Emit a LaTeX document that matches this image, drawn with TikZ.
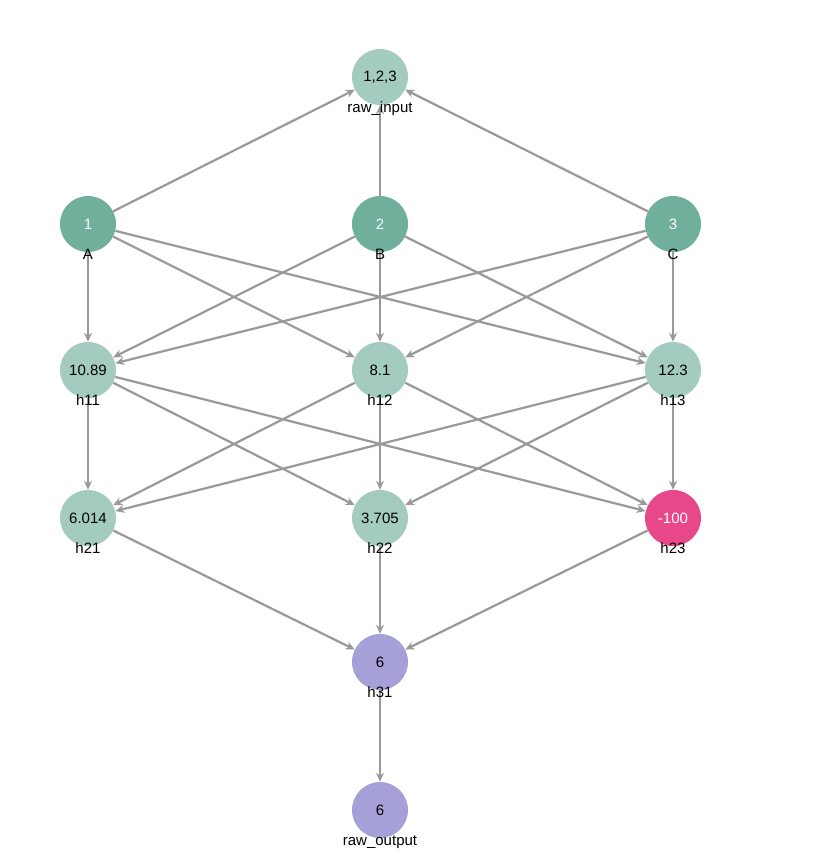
\documentclass[tikz,border=0pt]{standalone}
\usepackage{fontspec}
\setmainfont{Liberation Sans}
\usetikzlibrary{arrows.meta}
\definecolor{darkgreen}{HTML}{6FAF9B}
\definecolor{lightgreen}{HTML}{A3CBBF}
\definecolor{hotpink}{HTML}{E8488A}
\definecolor{lavender}{HTML}{A5A1D8}
\definecolor{edgegray}{HTML}{999999}
\tikzset{
	unit/.style={circle,minimum size=56pt,inner sep=0pt,font=\fontsize{15}{15}\selectfont},
	inunit/.style={unit,fill=darkgreen,text=white},
	hidunit/.style={unit,fill=lightgreen},
	outunit/.style={unit,fill=lavender},
	link/.style={draw=edgegray,line width=2.2pt,-{Stealth[length=9pt,width=8pt]}},
	tag/.style={font=\fontsize{15}{15}\selectfont,anchor=base}
}
\begin{document}
\begin{tikzpicture}[x=1pt,y=-1pt]
	\useasboundingbox (0,0) rectangle (814,859);
	% units
		\node [hidunit] (raw_in) at (380,77) {1,2,3};
		\node [inunit] (A) at (88,224) {1};
		\node [inunit] (B) at (380,224) {2};
		\node [inunit] (C) at (673,224) {3};
		\node [hidunit] (h11) at (88,370) {10.89};
		\node [hidunit] (h12) at (380,370) {8.1};
		\node [hidunit] (h13) at (673,370) {12.3};
		\node [hidunit] (h21) at (88,518) {6.014};
		\node [hidunit] (h22) at (380,518) {3.705};
		\node [unit,fill=hotpink,text=white] (h23) at (673,518) {-100};
		\node [outunit] (h31) at (380,662) {6};
		\node [outunit] (raw_out) at (380,810) {6};
	% links
		\foreach \s in {A,B,C}
			\draw [link] (\s) -- (raw_in);
		\foreach \s in {A,B,C}
			\foreach \t in {h11,h12,h13}
				\draw [link] (\s) -- (\t);
		\foreach \s in {h11,h12,h13}
			\foreach \t in {h21,h22,h23}
				\draw [link] (\s) -- (\t);
		\foreach \s in {h21,h22,h23}
			\draw [link] (\s) -- (h31);
		\draw [link] (h31) -- (raw_out);
	% names
		\foreach \n/\l in {raw_in/raw\_input,A/A,B/B,C/C,h11/h11,h12/h12,h13/h13,h21/h21,h22/h22,h23/h23,h31/h31,raw_out/raw\_output}
			\node [tag] at ([yshift=-35pt]\n.center) {\l};
\end{tikzpicture}
\end{document}
